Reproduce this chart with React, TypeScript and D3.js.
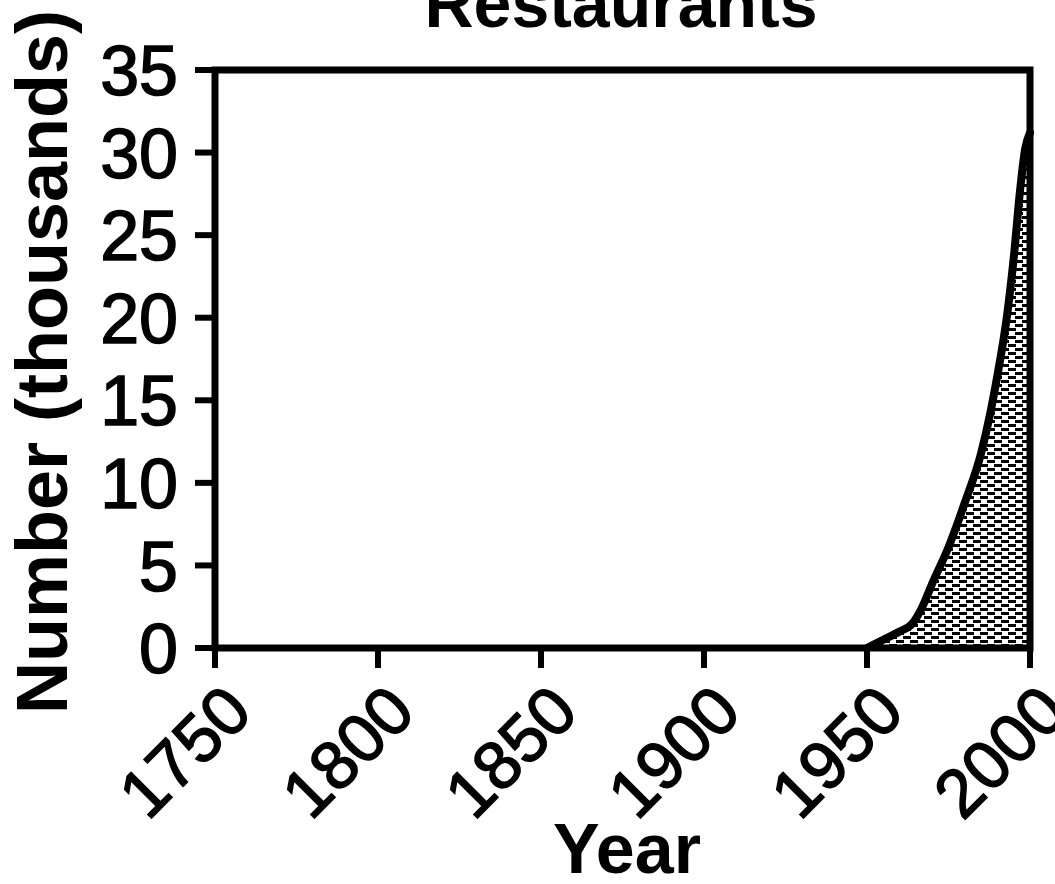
import React from "react";
import * as d3 from "d3";

const years = [1950, 1955, 1960, 1964, 1967, 1970, 1975, 1980, 1985, 1988, 1990, 1993, 1995, 1997, 1998.5, 2000];
const restaurants = [0, 0.5, 1.0, 1.5, 2.5, 3.9, 6.1, 8.8, 11.8, 14.4, 16.5, 20.2, 23.6, 27.8, 30.2, 31.2];
const xTicks = [1750, 1800, 1850, 1900, 1950, 2000];
const yTicks = [0, 5, 10, 15, 20, 25, 30, 35];
const title = "Restaurants";
const xLabel = "Year";
const yLabel = "Number (thousands)";

export default function App() {
  const W = 1055, H = 884;
  const x = d3.scaleLinear().domain([1750, 2000]).range([215, 1030]);
  const y = d3.scaleLinear().domain([0, 35]).range([648, 70]);
  const pts = years.map((yr, i) => [yr, restaurants[i]] as [number, number]);
  const area = d3.area<[number, number]>().x(d => x(d[0])).y0(y(0)).y1(d => y(d[1])).curve(d3.curveMonotoneX);
  const line = d3.line<[number, number]>().x(d => x(d[0])).y(d => y(d[1])).curve(d3.curveMonotoneX);
  const font = "'Liberation Sans', Arial, Helvetica, sans-serif";
  return (
    <svg width={W} height={H} style={{ position: "absolute", left: 0, top: 0, background: "#fff" }}>
      <defs>
        <pattern id="stip" width="14" height="8" patternUnits="userSpaceOnUse">
          <rect width="14" height="8" fill="#fff" />
          <rect x="0" y="0" width="8" height="3" fill="#000" />
          <rect x="7" y="4" width="8" height="3" fill="#000" />
          <rect x="-7" y="4" width="8" height="3" fill="#000" />
        </pattern>
      </defs>
      <text x={621} y={27} textAnchor="middle" fontFamily={font} fontWeight="bold" fontSize={68}>{title}</text>
      <path d={area(pts) || ""} fill="url(#stip)" />
      <path d={line(pts) || ""} fill="none" stroke="#000" strokeWidth={8} strokeLinejoin="round" strokeLinecap="round" />
      <rect x={x(1750)} y={y(35)} width={x(2000) - x(1750)} height={y(0) - y(35)} fill="none" stroke="#000" strokeWidth={7} />
      {yTicks.map(t => (
        <g key={"y" + t}>
          <line x1={x(1750) - 20} x2={x(1750)} y1={y(t)} y2={y(t)} stroke="#000" strokeWidth={6} />
          <text x={178} y={y(t)} dy="0.36em" textAnchor="end" fontFamily={font} fontSize={70} stroke="#000" strokeWidth={1.5}>{t}</text>
        </g>
      ))}
      {xTicks.map(t => (
        <g key={"x" + t}>
          <line x1={x(t)} x2={x(t)} y1={y(0)} y2={y(0) + 20} stroke="#000" strokeWidth={6} />
          <text transform={`translate(${x(t) - 31},${y(0) + 103}) rotate(-45)`} dy="0.36em" textAnchor="middle" fontFamily={font} fontSize={68} stroke="#000" strokeWidth={1.5}>{t}</text>
        </g>
      ))}
      <text x={627} y={873} textAnchor="middle" fontFamily={font} fontWeight="bold" fontSize={70}>{xLabel}</text>
      <text transform={`translate(67,362) rotate(-90)`} textAnchor="middle" fontFamily={font} fontWeight="bold" fontSize={72}>{yLabel}</text>
    </svg>
  );
}
